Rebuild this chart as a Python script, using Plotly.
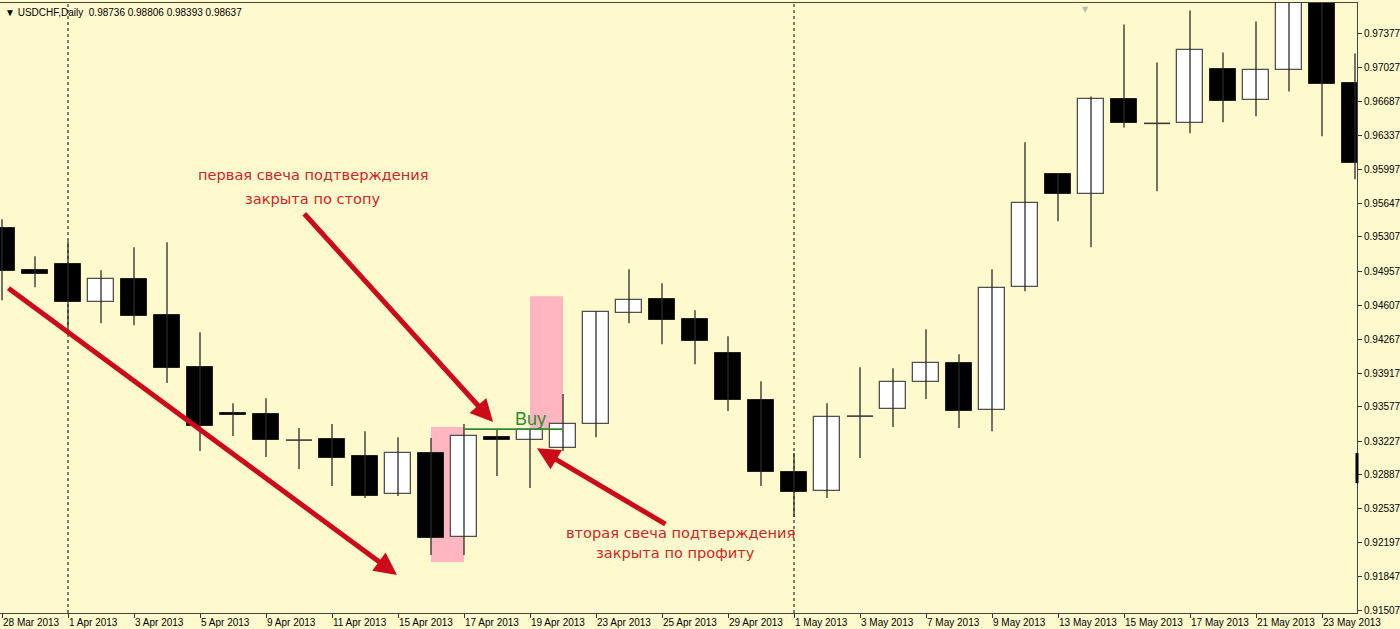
import plotly.graph_objects as go

dates = ["28 Mar 2013", "29 Mar 2013", "1 Apr 2013", "2 Apr 2013", "3 Apr 2013", "4 Apr 2013",
         "5 Apr 2013", "8 Apr 2013", "9 Apr 2013", "10 Apr 2013", "11 Apr 2013", "12 Apr 2013",
         "15 Apr 2013", "16 Apr 2013", "17 Apr 2013", "18 Apr 2013", "19 Apr 2013", "22 Apr 2013",
         "23 Apr 2013", "24 Apr 2013", "25 Apr 2013", "26 Apr 2013", "29 Apr 2013", "30 Apr 2013",
         "1 May 2013", "2 May 2013", "3 May 2013", "6 May 2013", "7 May 2013", "8 May 2013",
         "9 May 2013", "10 May 2013", "13 May 2013", "14 May 2013", "15 May 2013", "16 May 2013",
         "17 May 2013", "20 May 2013", "21 May 2013", "22 May 2013", "23 May 2013", "24 May 2013"]

opens = [0.95394, 0.94967, 0.95028, 0.94641, 0.94875, 0.94509, 0.93980, 0.93512, 0.93502, 0.93238,
         0.93248, 0.93075, 0.92689, 0.93106, 0.92251, 0.93268, 0.93238, 0.93156, 0.93401, 0.94529,
         0.94672, 0.94468, 0.94123, 0.93645, 0.92912, 0.92719, 0.93482, 0.93553, 0.93828, 0.94021,
         0.93543, 0.94794, 0.95943, 0.95740, 0.96706, 0.96462, 0.96462, 0.97011, 0.96696, 0.97001,
         0.97900, 0.96869]
highs = [0.95485, 0.95109, 0.95262, 0.94967, 0.95201, 0.95252, 0.94336, 0.93614, 0.93665, 0.93360,
         0.93401, 0.93329, 0.93268, 0.93258, 0.93401, 0.93350, 0.93350, 0.93706, 0.94550, 0.94977,
         0.94835, 0.94560, 0.94296, 0.93838, 0.93106, 0.93614, 0.93980, 0.93970, 0.94367, 0.94112,
         0.94977, 0.96269, 0.95953, 0.96736, 0.97469, 0.97082, 0.97611, 0.97184, 0.97499, 0.98000,
         0.98100, 0.97174]
lows = [0.94662, 0.94794, 0.94377, 0.94428, 0.94407, 0.93818, 0.93126, 0.93279, 0.93065, 0.92943,
        0.92770, 0.92648, 0.92668, 0.92068, 0.92068, 0.92872, 0.92750, 0.93126, 0.93268, 0.94428,
        0.94214, 0.94011, 0.93533, 0.92770, 0.92455, 0.92648, 0.93055, 0.93370, 0.93655, 0.93360,
        0.93329, 0.94753, 0.95465, 0.95201, 0.96421, 0.95770, 0.96360, 0.96472, 0.96533, 0.96787,
        0.96330, 0.95892]
closes = [0.94957, 0.94926, 0.94641, 0.94875, 0.94499, 0.93970, 0.93380, 0.93492, 0.93238, 0.93238,
          0.93055, 0.92668, 0.93106, 0.92241, 0.93279, 0.93238, 0.93340, 0.93401, 0.94540, 0.94662,
          0.94458, 0.94245, 0.93645, 0.92912, 0.92709, 0.93472, 0.93482, 0.93828, 0.94021, 0.93533,
          0.94784, 0.95648, 0.95740, 0.96706, 0.96462, 0.96462, 0.97204, 0.96685, 0.97001, 0.97800,
          0.96858, 0.96055]

price_ticks = [0.91507, 0.91847, 0.92197, 0.92537, 0.92887, 0.93227, 0.93577, 0.93917, 0.94267,
               0.94607, 0.94957, 0.95307, 0.95647, 0.95997, 0.96337, 0.96687, 0.97027, 0.97377]

header = "▼ USDCHF,Daily  0.98736 0.98806 0.98393 0.98637"

BG = "#FFFACD"
RED = "#CC0A1A"
TXT_RED = "#CC2626"
GREEN = "#2E8B2E"

n = len(dates)
idx = list(range(n))
body_w = 0.79

fig = go.Figure()

# wicks
wx, wy = [], []
for i in idx:
    wx += [i, i, None]
    wy += [lows[i], highs[i], None]
fig.add_trace(go.Scatter(x=wx, y=wy, mode="lines", line=dict(color="#2a2a2a", width=1.3),
                         hoverinfo="skip", showlegend=False))

bull = [i for i in idx if closes[i] > opens[i] + 0.00003]
bear = [i for i in idx if closes[i] < opens[i] - 0.00003]
doji = [i for i in idx if abs(closes[i] - opens[i]) <= 0.00003]

fig.add_trace(go.Bar(x=bull, y=[closes[i] - opens[i] for i in bull], base=[opens[i] for i in bull],
                     width=body_w, marker=dict(color="white", line=dict(color="#505050", width=1.3)),
                     showlegend=False))
fig.add_trace(go.Bar(x=bear, y=[opens[i] - closes[i] for i in bear], base=[closes[i] for i in bear],
                     width=body_w, marker=dict(color="black", line=dict(color="#202020", width=1)),
                     showlegend=False))
dx, dy = [], []
for i in doji:
    dx += [i - body_w / 2, i + body_w / 2, None]
    dy += [opens[i], opens[i], None]
fig.add_trace(go.Scatter(x=dx, y=dy, mode="lines", line=dict(color="#3a3a3a", width=1.6),
                         hoverinfo="skip", showlegend=False))

# Buy level line (from 17 Apr to 22 Apr)
buy_level = 0.93350
fig.add_trace(go.Scatter(x=[14, 17], y=[buy_level, buy_level], mode="lines",
                         line=dict(color=GREEN, width=1.6), hoverinfo="skip", showlegend=False))

shapes = [
    dict(type="rect", xref="x", yref="y", x0=13, x1=14, y0=0.91997, y1=0.93370,
         fillcolor="#FFB6C1", line=dict(width=0), layer="below"),
    dict(type="rect", xref="x", yref="y", x0=16, x1=17, y0=0.93340, y1=0.94702,
         fillcolor="#FFB6C1", line=dict(width=0), layer="below"),
    dict(type="line", xref="x", yref="paper", x0=2, x1=2, y0=0, y1=1,
         line=dict(color="black", width=1, dash="dot"), layer="below"),
    dict(type="line", xref="x", yref="paper", x0=24, x1=24, y0=0, y1=1,
         line=dict(color="black", width=1, dash="dot"), layer="below"),
    dict(type="line", xref="paper", yref="y", x0=1, x1=1, y0=0.92800, y1=0.93106,
         line=dict(color="black", width=3)),
]

annotations = [
    dict(xref="paper", yref="paper", x=0.002, y=0.997, xanchor="left", yanchor="top",
         text=header, showarrow=False, font=dict(family="Liberation Sans", size=10, color="black")),
    dict(xref="x", yref="paper", x=32.82, y=1.0, xanchor="center", yanchor="top",
         text="▼", showarrow=False, font=dict(family="DejaVu Sans", size=8, color="#BBBBBB")),
    # arrows
    dict(xref="x", yref="y", axref="x", ayref="y", x=11.97, y=0.91865, ax=0.15, ay=0.94794,
         showarrow=True, arrowhead=2, arrowsize=0.9, arrowwidth=5, arrowcolor=RED, text=""),
    dict(xref="x", yref="y", axref="x", ayref="y", x=14.88, y=0.93421, ax=9.12, ay=0.95557,
         showarrow=True, arrowhead=2, arrowsize=0.9, arrowwidth=5, arrowcolor=RED, text=""),
    dict(xref="x", yref="y", axref="x", ayref="y", x=16.21, y=0.93156, ax=20.15, ay=0.92373,
         showarrow=True, arrowhead=2, arrowsize=0.9, arrowwidth=5, arrowcolor=RED, text=""),
    # texts
    dict(xref="x", yref="y", x=9.42, y=0.95943, text="первая свеча подтверждения", showarrow=False,
         font=dict(family="DejaVu Sans", size=14.6, color=TXT_RED)),
    dict(xref="x", yref="y", x=9.42, y=0.95699, text="закрыта по стопу", showarrow=False,
         font=dict(family="DejaVu Sans", size=14.6, color=TXT_RED)),
    dict(xref="x", yref="y", x=20.55, y=0.92302, text="вторая свеча подтверждения", showarrow=False,
         font=dict(family="DejaVu Sans", size=14.6, color=TXT_RED)),
    dict(xref="x", yref="y", x=20.42, y=0.92089, text="закрыта по профиту", showarrow=False,
         font=dict(family="DejaVu Sans", size=14.6, color=TXT_RED)),
    dict(xref="x", yref="y", x=16.0, y=buy_level, yanchor="bottom", yshift=-2, text="Buy",
         showarrow=False, font=dict(family="Liberation Sans", size=18, color=GREEN)),
]

fig.update_layout(
    width=1400, height=629,
    margin=dict(l=0, r=43, t=3, b=16, autoexpand=False),
    paper_bgcolor=BG, plot_bgcolor=BG,
    barmode="overlay", bargap=0,
    showlegend=False,
    shapes=shapes, annotations=annotations,
    font=dict(family="Liberation Sans", size=10, color="black"),
    xaxis=dict(range=[-0.0606, 41.0606], tickmode="array", tickvals=idx[::2], ticktext=dates[::2],
               ticks="outside", ticklen=4, tickcolor="#333", showgrid=False, zeroline=False,
               showline=True, linecolor="#444", linewidth=1, mirror=True, tickangle=0,
               automargin=False, ticklabelposition="outside right",
               tickfont=dict(size=10, color="black"), fixedrange=True),
    yaxis=dict(range=[0.91478, 0.97687], side="right", tickmode="array", tickvals=price_ticks,
               ticktext=[f"{v:.5f}" for v in price_ticks], ticks="outside", ticklen=4,
               tickcolor="#333", showgrid=False, zeroline=False, showline=True, linecolor="#444",
               linewidth=1, mirror=True, automargin=False, tickfont=dict(size=10, color="black"),
               fixedrange=True),
)

fig.write_html(
    "out.html",
    config={"displayModeBar": False},
    post_script="document.body.style.margin='0';document.body.style.padding='0';"
                "document.body.style.overflow='hidden';"
                "document.body.style.background='" + BG + "';",
)
